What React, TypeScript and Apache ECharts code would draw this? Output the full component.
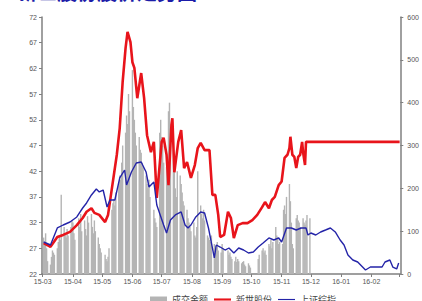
import React, { useEffect, useRef } from "react";
import * as echarts from "echarts";

const titleText = "新世股份股价走势图";
const seriesNames = ["成交金额", "新世股份", "上证综指"];

// Red line: stock price (left axis)
const priceDates = [
  "2015-03-02", "2015-03-09", "2015-03-16", "2015-03-22", "2015-03-29", "2015-04-05", "2015-04-11", "2015-04-15",
  "2015-04-20", "2015-04-23", "2015-04-28", "2015-05-04", "2015-05-07", "2015-05-11", "2015-05-16", "2015-05-19",
  "2015-05-22", "2015-05-25", "2015-05-27", "2015-05-30", "2015-06-01", "2015-06-03", "2015-06-06", "2015-06-10",
  "2015-06-13", "2015-06-16", "2015-06-20", "2015-06-23", "2015-06-26", "2015-07-01", "2015-07-03", "2015-07-06",
  "2015-07-08", "2015-07-11", "2015-07-12", "2015-07-14", "2015-07-18", "2015-07-21", "2015-07-24", "2015-07-27",
  "2015-07-31", "2015-08-04", "2015-08-07", "2015-08-10", "2015-08-14", "2015-08-19", "2015-08-22", "2015-08-25",
  "2015-08-28", "2015-08-30", "2015-09-03", "2015-09-07", "2015-09-10", "2015-09-13", "2015-09-17", "2015-09-22",
  "2015-09-27", "2015-10-02", "2015-10-07", "2015-10-12", "2015-10-15", "2015-10-19", "2015-10-22", "2015-10-25",
  "2015-10-29", "2015-11-01", "2015-11-04", "2015-11-07", "2015-11-09", "2015-11-10", "2015-11-12", "2015-11-14",
  "2015-11-16", "2015-11-18", "2015-11-20", "2015-11-22", "2015-11-23", "2015-11-25", "2015-11-26", "2015-11-28",
  "2016-03-01"
];
const priceValues = [
  28.0, 27.3, 29.2, 29.6, 30.2, 31.5, 32.9, 34.1,
  34.8, 33.9, 33.5, 32.1, 33.5, 38.7, 45.2, 50.4,
  59.4, 66.0, 69.1, 67.1, 63.2, 62.1, 56.2, 61.1,
  56.2, 49.0, 45.7, 47.7, 36.8, 47.7, 48.5, 45.2,
  39.3, 51.0, 52.3, 41.8, 47.7, 50.0, 42.6, 43.8,
  40.7, 43.2, 46.5, 47.5, 46.1, 46.1, 37.4, 37.4,
  33.5, 29.2, 29.6, 34.1, 32.9, 29.0, 31.5, 31.9,
  31.9, 32.5, 33.5, 35.0, 36.0, 34.8, 36.4, 37.0,
  39.3, 40.0, 44.6, 45.2, 46.5, 48.7, 45.2, 44.8,
  42.6, 44.8, 45.2, 47.7, 45.7, 43.2, 47.7, 47.7,
  47.7
];

// Blue line: Shanghai composite (hidden axis)
const indexDates = [
  "2015-03-02", "2015-03-09", "2015-03-16", "2015-03-22", "2015-03-29", "2015-04-05", "2015-04-11", "2015-04-15",
  "2015-04-20", "2015-04-25", "2015-04-28", "2015-05-02", "2015-05-06", "2015-05-09", "2015-05-14", "2015-05-19",
  "2015-05-24", "2015-05-26", "2015-05-31", "2015-06-05", "2015-06-10", "2015-06-15", "2015-06-18", "2015-06-23",
  "2015-06-26", "2015-07-03", "2015-07-06", "2015-07-10", "2015-07-15", "2015-07-21", "2015-07-25", "2015-07-28",
  "2015-07-31", "2015-08-05", "2015-08-10", "2015-08-14", "2015-08-18", "2015-08-21", "2015-08-24", "2015-08-26",
  "2015-08-30", "2015-09-04", "2015-09-08", "2015-09-13", "2015-09-18", "2015-09-23", "2015-09-28", "2015-10-03",
  "2015-10-08", "2015-10-13", "2015-10-19", "2015-10-24", "2015-10-29", "2015-11-01", "2015-11-06", "2015-11-11",
  "2015-11-16", "2015-11-21", "2015-11-26", "2015-11-28", "2015-12-01", "2015-12-06", "2015-12-11", "2015-12-16",
  "2015-12-21", "2015-12-26", "2015-12-31", "2016-01-04", "2016-01-08", "2016-01-13", "2016-01-18", "2016-01-23",
  "2016-01-26", "2016-01-31", "2016-02-05", "2016-02-12", "2016-02-15", "2016-02-20", "2016-02-23", "2016-02-27",
  "2016-02-29"
];
const indexValues = [
  3297, 3227, 3624, 3694, 3764, 3881, 4091, 4208,
  4395, 4535, 4465, 4511, 4114, 4278, 4278, 4792,
  4978, 4628, 4932, 5142, 5165, 4932, 4581, 4698,
  4161, 3694, 3507, 3811, 3928, 3998, 3694, 3624,
  3694, 3881, 3998, 3974, 3624, 3274, 2924, 3227,
  3180, 3110, 3157, 3040, 3157, 3110, 3040, 3064,
  3180, 3274, 3391, 3344, 3391, 3297, 3624, 3624,
  3577, 3624, 3624, 3461, 3507, 3461, 3531, 3577,
  3624, 3531, 3344, 3227, 2994, 2877, 2830, 2713,
  2643, 2713, 2713, 2713, 2830, 2877, 2713, 2667,
  2807
];

// Grey bars: turnover (right axis), one value per trading day of each month
const volMonths = ["2015-03", "2015-04", "2015-05", "2015-06", "2015-07", "2015-08", "2015-09", "2015-10", "2015-11"];
const volMar = [85, 70, 95, 60, 30, 22, 40, 55, 50, 45, 60, 75, 90, 80, 185, 110, 95, 85, 105, 90, 110, 125];
const volApr = [120, 95, 80, 130, 110, 140, 100, 125, 105, 90, 135, 120, 140, 110, 95, 125, 100, 85, 70, 60, 50];
const volMay = [45, 35, 30, 40, 60, 150, 165, 175, 160, 190, 210, 230, 220, 260, 300, 330, 370, 350, 420, 380];
const volJun = [476, 390, 360, 330, 300, 320, 290, 283, 260, 250, 230, 210, 200, 220, 180, 150, 130, 120, 110, 330, 360];
const volJul = [320, 300, 260, 250, 220, 380, 400, 330, 290, 240, 200, 180, 240, 230, 210, 190, 170, 160, 150, 130, 120, 110, 100];
const volAug = [120, 90, 85, 110, 240, 160, 140, 130, 150, 125, 90, 85, 80, 75, 90, 70, 65, 60, 75, 55, 50];
const volSep = [70, 60, 55, 45, 50, 40, 35, 30, 40, 28, 35, 30, 25, 28, 30, 22, 18, 25, 20, 15];
const volOct = [35, 45, 55, 60, 50, 55, 45, 70, 65, 80, 60, 75, 110, 90, 85, 70, 75];
const volNov = [70, 150, 160, 140, 180, 210, 170, 120, 70, 60, 130, 138, 125, 120, 110, 130, 120, 115, 125, 138, 130];
const volByMonth = [volMar, volApr, volMay, volJun, volJul, volAug, volSep, volOct, volNov];
const holidays = ["2015-04-06", "2015-05-01", "2015-06-22", "2015-09-03", "2015-09-04",
  "2015-10-01", "2015-10-02", "2015-10-05", "2015-10-06", "2015-10-07"];

const axisMin = "2015-03-01";
const axisMax = "2016-03-01";

const pad = (n: number) => (n < 10 ? "0" + n : "" + n);

function tradingDays(ym: string): string[] {
  const [y, m] = ym.split("-").map(Number);
  const out: string[] = [];
  const days = new Date(Date.UTC(y, m, 0)).getUTCDate();
  for (let d = 1; d <= days; d++) {
    const wd = new Date(Date.UTC(y, m - 1, d)).getUTCDay();
    const s = `${y}-${pad(m)}-${pad(d)}`;
    if (wd !== 0 && wd !== 6 && holidays.indexOf(s) < 0) out.push(s);
  }
  return out;
}

export default function App() {
  const ref = useRef<HTMLDivElement>(null);
  useEffect(() => {
    if (!ref.current) return;
    const chart = echarts.init(ref.current, null, { renderer: "svg" });
    const volData: [string, number][] = [];
    volMonths.forEach((ym, i) => {
      const days = tradingDays(ym);
      const vals = volByMonth[i];
      vals.forEach((v, j) => {
        const idx = Math.min(days.length - 1, Math.round((j * days.length) / vals.length));
        volData.push([days[idx], v]);
      });
    });
    const maxTs = new Date(axisMax + "T00:00:00").getTime();
    const font = "Liberation Sans";
    const axisLineStyle = { color: "#808080", width: 1.5 };
    const lineIcon = "path://M0,0 L24,0 L24,3 L0,3 Z";
    chart.setOption({
      animation: false,
      textStyle: { fontFamily: font },
      grid: { left: 42, right: 17, top: 17, bottom: 27, containLabel: false },
      graphic: [
        {
          type: "text",
          left: 17,
          top: -19,
          style: { text: titleText, fill: "#1c1ca8", font: 'bold 20px "Noto Sans CJK SC"' },
        },
      ],
      legend: {
        left: 145,
        top: 290,
        itemWidth: 17,
        itemHeight: 6,
        itemGap: 6,
        textStyle: { fontSize: 9, color: "#444", fontFamily: "Noto Sans CJK SC" },
        data: [
          { name: seriesNames[0], icon: "rect" },
          { name: seriesNames[1], icon: lineIcon },
          { name: seriesNames[2], icon: "path://M0,0 L24,0 L24,1.6 L0,1.6 Z" },
        ],
      },
      xAxis: {
        type: "time",
        min: axisMin,
        max: axisMax,
        minInterval: 28 * 86400000,
        maxInterval: 31 * 86400000,
        splitLine: { show: false },
        axisLine: { lineStyle: axisLineStyle },
        axisTick: { show: true, length: 3, lineStyle: { color: "#808080" } },
        axisLabel: {
          fontSize: 7,
          color: "#555",
          margin: 4,
          hideOverlap: false,
          formatter: (v: number) => {
            if (v >= maxTs - 86400000) return "";
            const d = new Date(v);
            return `${String(d.getFullYear()).slice(2)}-${pad(d.getMonth() + 1)}`;
          },
        },
      },
      yAxis: [
        {
          type: "value",
          min: 22,
          max: 72,
          interval: 5,
          splitLine: { show: false },
          axisLine: { show: true, lineStyle: axisLineStyle },
          axisTick: { show: true, length: 3, lineStyle: { color: "#808080" } },
          axisLabel: { fontSize: 7, color: "#555", margin: 5 },
        },
        {
          type: "value",
          min: 0,
          max: 600,
          interval: 100,
          position: "right",
          splitLine: { show: false },
          axisLine: { show: true, lineStyle: axisLineStyle },
          axisTick: { show: true, length: 3, lineStyle: { color: "#808080" } },
          axisLabel: { fontSize: 7, color: "#555", margin: 7 },
        },
        { type: "value", min: 2550, max: 8550, show: false },
      ],
      series: [
        {
          name: seriesNames[0],
          type: "bar",
          yAxisIndex: 1,
          barWidth: 1.4,
          itemStyle: { color: "#b4b4b4" },
          data: volData,
        },
        {
          name: seriesNames[1],
          type: "line",
          yAxisIndex: 0,
          symbol: "none",
          lineStyle: { color: "#e8141b", width: 2.6 },
          itemStyle: { color: "#e8141b" },
          data: priceDates.map((d, i) => [d, priceValues[i]]),
          z: 3,
        },
        {
          name: seriesNames[2],
          type: "line",
          yAxisIndex: 2,
          symbol: "none",
          lineStyle: { color: "#2424a8", width: 1.4 },
          itemStyle: { color: "#2424a8" },
          data: indexDates.map((d, i) => [d, indexValues[i]]),
          z: 4,
        },
      ],
    });
    return () => chart.dispose();
  }, []);
  return (
    <div
      ref={ref}
      style={{ position: "fixed", left: 0, top: 0, width: 422, height: 301, background: "#fff" }}
    />
  );
}
